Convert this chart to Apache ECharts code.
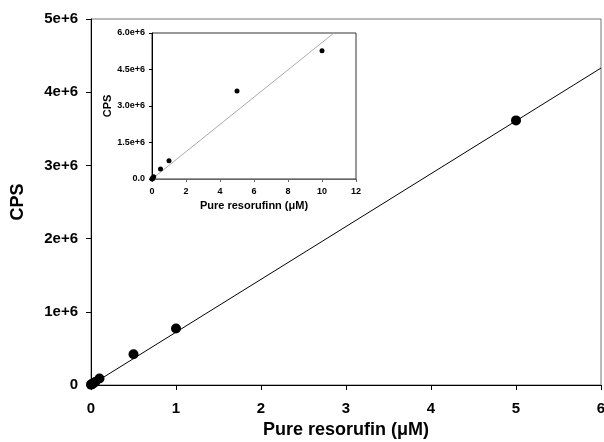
<!DOCTYPE html>
<html>
<head>
<meta charset="utf-8">
<script src="https://cdn.jsdelivr.net/npm/echarts@6/dist/echarts.min.js"></script>
<style>
  html, body { margin: 0; padding: 0; background: #fff; }
  #chart { width: 604px; height: 442px; }
</style>
</head>
<body>
<div id="chart"></div>
<script>
// main plot: concentration (uM) vs CPS
const mainX = [0, 0.01, 0.025, 0.05, 0.1, 0.5, 1, 5]
const mainY = [5000, 12000, 22000, 42000, 90000, 420000, 772000, 3615000]
const mainFitX = [0, 6]
const mainFitY = [0, 4330000]

// inset: full range incl. 10 uM
const insetX = [0, 0.01, 0.025, 0.05, 0.1, 0.5, 1, 5, 10]
const insetY = [5000, 12000, 22000, 42000, 90000, 410000, 750000, 3620000, 5270000]
const insetFitX = [0, 10.7]
const insetFitY = [0, 6000000]

const pairs = (xs, ys) => xs.map((x, i) => [x, ys[i]])

const font = 'Liberation Sans, Arial, sans-serif'

const chart = echarts.init(document.getElementById('chart'))

const axisBase = {
  splitLine: { show: false },
  axisLine: { show: true, onZero: false, lineStyle: { color: '#000', width: 1 } },
  axisTick: { show: true, inside: false, length: 5, lineStyle: { color: '#000' } },
  nameLocation: 'middle'
}

const options = {
  backgroundColor: '#fff',
  animation: false,
  grid: [
    { left: 91, top: 19, width: 510, height: 366, show: true, borderColor: '#777', borderWidth: 1, outerBoundsMode: 'none' },
    { left: 152, top: 33, width: 204, height: 146, show: true, borderColor: '#333', borderWidth: 1, backgroundColor: '#fff', z: 5, outerBoundsMode: 'none' }
  ],
  xAxis: [
    Object.assign({}, axisBase, {
      gridIndex: 0, type: 'value', min: 0, max: 6, interval: 1,
      name: 'Pure resorufin (\u03bcM)', nameGap: 28,
      nameTextStyle: { fontFamily: font, fontWeight: 'bold', fontSize: 18, color: '#000' },
      axisLabel: { fontFamily: font, fontWeight: 'bold', fontSize: 15, color: '#000', margin: 16 }
    }),
    Object.assign({}, axisBase, {
      gridIndex: 1, type: 'value', min: 0, max: 12, interval: 2, z: 6,
      axisLine: { show: true, onZero: false, lineStyle: { color: '#666', width: 1 } },
      axisTick: { show: true, length: 3, lineStyle: { color: '#666' } },
      name: 'Pure resorufinn (\u03bcM)', nameGap: 21,
      nameTextStyle: { fontFamily: font, fontWeight: 'bold', fontSize: 11, color: '#000' },
      axisLabel: { fontFamily: font, fontWeight: 'bold', fontSize: 9, color: '#000', margin: 8 }
    })
  ],
  yAxis: [
    Object.assign({}, axisBase, {
      gridIndex: 0, type: 'value', min: 0, max: 5000000, interval: 1000000,
      name: 'CPS', nameGap: 64,
      nameTextStyle: { fontFamily: font, fontWeight: 'bold', fontSize: 18, color: '#000' },
      axisLabel: {
        fontFamily: font, fontWeight: 'bold', fontSize: 15, color: '#000', margin: 13,
        formatter: v => v === 0 ? '0' : (v / 1e6) + 'e+6'
      }
    }),
    Object.assign({}, axisBase, {
      gridIndex: 1, type: 'value', min: 0, max: 6000000, interval: 1500000, z: 6,
      axisTick: { show: true, length: 3, lineStyle: { color: '#000' } },
      name: 'CPS', nameGap: 37,
      nameTextStyle: { fontFamily: font, fontWeight: 'bold', fontSize: 11, color: '#000' },
      axisLabel: {
        fontFamily: font, fontWeight: 'bold', fontSize: 9, color: '#000', margin: 7,
        formatter: v => v === 0 ? '0.0' : (v / 1e6).toFixed(1) + 'e+6'
      }
    })
  ],
  series: [
    {
      type: 'line', xAxisIndex: 0, yAxisIndex: 0,
      data: pairs(mainFitX, mainFitY), showSymbol: false, symbol: 'none',
      lineStyle: { color: '#000', width: 1 }, silent: true
    },
    {
      type: 'scatter', xAxisIndex: 0, yAxisIndex: 0,
      data: pairs(mainX, mainY), symbolSize: 10,
      itemStyle: { color: '#000', opacity: 1 }
    },
    {
      type: 'line', xAxisIndex: 1, yAxisIndex: 1, z: 7,
      data: pairs(insetFitX, insetFitY), showSymbol: false, symbol: 'none',
      lineStyle: { color: '#aaa', width: 1 }, silent: true
    },
    {
      type: 'scatter', xAxisIndex: 1, yAxisIndex: 1, z: 8,
      data: pairs(insetX, insetY), symbolSize: 5,
      itemStyle: { color: '#000', opacity: 1 }
    }
  ]
}
chart.setOption(options)
</script>
</body>
</html>
